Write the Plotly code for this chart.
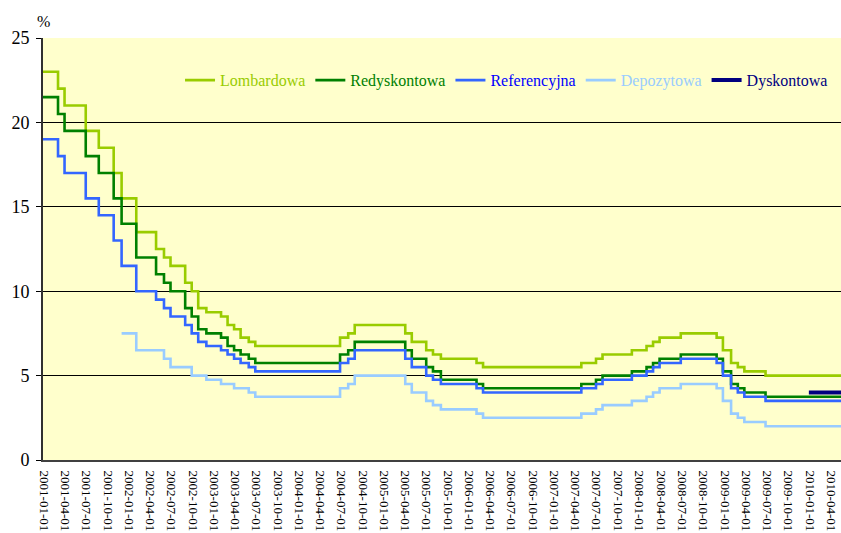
import pandas as pd
import plotly.graph_objects as go

# Dates on which the NBP rates changed (effective), plus end of the series
change_dates = [
    "2000-08-31", "2001-03-01", "2001-03-29", "2001-06-28", "2001-08-23", "2001-10-26",
    "2001-11-29", "2002-01-31", "2002-04-26", "2002-05-30", "2002-06-27", "2002-08-29",
    "2002-09-26", "2002-10-24", "2002-11-28", "2003-01-30", "2003-02-27", "2003-03-27",
    "2003-04-24", "2003-05-29", "2003-06-26", "2004-06-24", "2004-07-29", "2004-08-26",
    "2005-03-31", "2005-04-28", "2005-06-29", "2005-07-28", "2005-08-31", "2006-01-31",
    "2006-02-28", "2007-04-26", "2007-06-28", "2007-07-26", "2007-11-29", "2008-01-31",
    "2008-02-28", "2008-03-27", "2008-06-26", "2008-11-27", "2008-12-24", "2009-01-28",
    "2009-02-26", "2009-03-26", "2009-06-25", "2010-05-31",
]

lombardowa = [
    23.00, 22.00, 21.00, 19.50, 18.50, 17.00,
    15.50, 13.50, 12.50, 12.00, 11.50, 10.50,
    10.00, 9.00, 8.75, 8.50, 8.00, 7.75,
    7.25, 7.00, 6.75, 7.25, 7.50, 8.00,
    7.50, 7.00, 6.50, 6.25, 6.00, 5.75,
    5.50, 5.75, 6.00, 6.25, 6.50, 6.75,
    7.00, 7.25, 7.50, 7.25, 6.50, 5.75,
    5.50, 5.25, 5.00, 5.00,
]

redyskontowa = [
    21.50, 20.50, 19.50, 18.00, 17.00, 15.50,
    14.00, 12.00, 11.00, 10.50, 10.00, 9.00,
    8.50, 7.75, 7.50, 7.25, 6.75, 6.50,
    6.25, 6.00, 5.75, 6.25, 6.50, 7.00,
    6.50, 6.00, 5.50, 5.25, 4.75, 4.50,
    4.25, 4.50, 4.75, 5.00, 5.25, 5.50,
    5.75, 6.00, 6.25, 6.00, 5.25, 4.50,
    4.25, 4.00, 3.75, 3.75,
]

referencyjna = [
    19.00, 18.00, 17.00, 15.50, 14.50, 13.00,
    11.50, 10.00, 9.50, 9.00, 8.50, 8.00,
    7.50, 7.00, 6.75, 6.50, 6.25, 6.00,
    5.75, 5.50, 5.25, 5.75, 6.00, 6.50,
    6.00, 5.50, 5.00, 4.75, 4.50, 4.25,
    4.00, 4.25, 4.50, 4.75, 5.00, 5.25,
    5.50, 5.75, 6.00, 5.75, 5.00, 4.25,
    4.00, 3.75, 3.50, 3.50,
]

depozytowa = [
    None, None, None, None, None, None,
    7.50, 6.50, 6.50, 6.00, 5.50, 5.50,
    5.00, 5.00, 4.75, 4.50, 4.50, 4.25,
    4.25, 4.00, 3.75, 4.25, 4.50, 5.00,
    4.50, 4.00, 3.50, 3.25, 3.00, 2.75,
    2.50, 2.75, 3.00, 3.25, 3.50, 3.75,
    4.00, 4.25, 4.50, 4.25, 3.50, 2.75,
    2.50, 2.25, 2.00, 2.00,
]

dyskontowa_dates = ["2009-12-28", "2010-05-31"]
dyskontowa = [4.00, 4.00]

tick_dates = [d.strftime("%Y-%m-%d") for d in pd.date_range("2001-01-01", "2010-04-01", freq="QS")]
tick_labels = [d for d in tick_dates]

series = [
    ("Lombardowa", change_dates, lombardowa, "#99CC00", "#99CC00", 2.6),
    ("Redyskontowa", change_dates, redyskontowa, "#008000", "#008000", 2.6),
    ("Referencyjna", change_dates, referencyjna, "#3366FF", "#0000FF", 2.6),
    ("Depozytowa", change_dates, depozytowa, "#99CCFF", "#99CCFF", 2.6),
    ("Dyskontowa", dyskontowa_dates, dyskontowa, "#000080", "#000080", 4),
]

SERIF = '"Liberation Serif", "Times New Roman", serif'

fig = go.Figure()
for name, xs, ys, lc, tc, w in series:
    fig.add_trace(go.Scatter(
        x=xs, y=ys, mode="lines",
        line=dict(color=lc, width=w, shape="hv"),
        name=f'<span style="color:{tc}">{name}</span>',
        connectgaps=False,
    ))

fig.update_layout(
    width=841, height=533,
    margin=dict(l=43, r=0, t=38, b=73, autoexpand=False),
    paper_bgcolor="white",
    plot_bgcolor="#FFFFCC",
    font=dict(family=SERIF, color="black"),
    showlegend=True,
    legend=dict(
        orientation="h",
        x=0.99, xanchor="right",
        y=0.90, yanchor="middle",
        bgcolor="rgba(0,0,0,0)",
        font=dict(family=SERIF, size=16),
        itemwidth=30,
        tracegroupgap=0,
    ),
    xaxis=dict(
        type="date",
        range=["2000-12-26 12:00", "2010-05-15"],
        tickmode="array",
        tickvals=tick_dates,
        ticktext=tick_labels,
        tickangle=90,
        tickfont=dict(family=SERIF, size=13, color="black"),
        ticks="",
        ticklabelstandoff=6,
        showgrid=False,
        showline=True,
        linecolor="#404040",
        linewidth=2,
        zeroline=False,
        automargin=False,
    ),
    yaxis=dict(
        range=[0, 25],
        tickvals=[0, 5, 10, 15, 20, 25],
        tickfont=dict(family=SERIF, size=18, color="black"),
        ticks="outside",
        ticklen=5,
        tickwidth=1,
        tickcolor="black",
        showgrid=True,
        gridcolor="black",
        gridwidth=1,
        showline=True,
        linecolor="#303030",
        linewidth=2,
        zeroline=False,
        automargin=False,
        ticklabelstandoff=3,
    ),
    annotations=[
        dict(text="%", xref="paper", yref="paper", x=0.0, y=1.04,
             xanchor="center", yanchor="middle", showarrow=False,
             font=dict(family=SERIF, size=16, color="black")),
    ],
)

fig.write_html(
    "out.html",
    config={"displayModeBar": False},
    post_script="document.body.style.margin='0';document.body.style.overflow='hidden';",
)
